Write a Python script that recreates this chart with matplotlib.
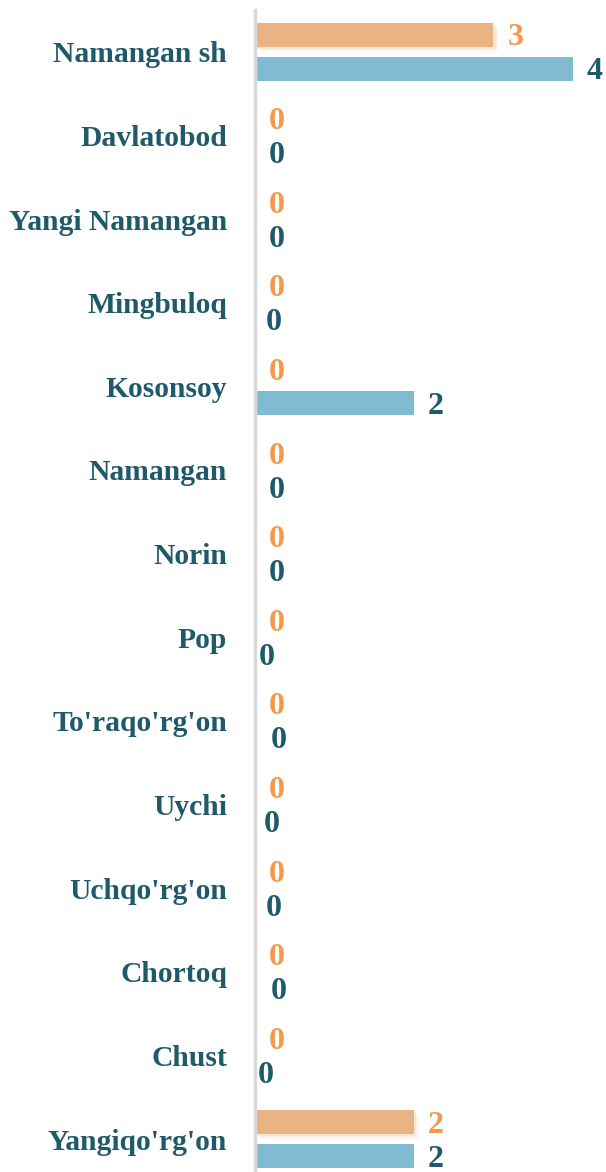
import matplotlib.pyplot as plt
import matplotlib.patheffects as pe
import numpy as np

regions = ["Namangan sh", "Davlatobod", "Yangi Namangan", "Mingbuloq", "Kosonsoy",
           "Namangan", "Norin", "Pop", "To'raqo'rg'on", "Uychi", "Uchqo'rg'on",
           "Chortoq", "Chust", "Yangiqo'rg'on"]
orange_vals = [3, 0, 0, 0, 0, 0, 0, 0, 0, 0, 0, 0, 0, 2]
blue_vals = [4, 0, 0, 0, 2, 0, 0, 0, 0, 0, 0, 0, 0, 2]

# small horizontal nudges of the zero labels seen in the picture (points)
blue_zero_nudge = [0, 0, 0, -2, 0, 0, 0, -7, 1, -4, -2, 1, -8, 0]

ORANGE = "#EAB384"
BLUE = "#80BBD1"
TEAL = "#1F5A6A"
ORANGE_TXT = "#F5984A"

plt.rcParams['font.family'] = ['Liberation Serif', 'DejaVu Serif']

fig = plt.figure(figsize=(6.06, 11.72), dpi=100)
ax = fig.add_axes([255 / 606, 0, 1 - 255 / 606, 1162 / 1172])

y = np.arange(len(regions))
off = 0.203
h = 0.287

shadow = [pe.SimplePatchShadow(offset=(d, -d), shadow_rgbFace=ORANGE, alpha=a)
          for d, a in [(3.5, 0.08), (2.5, 0.12), (1.5, 0.18)]]
ax.barh(y - off, orange_vals, height=h, color=ORANGE, zorder=2,
        path_effects=shadow + [pe.Normal()])
ax.barh(y + off, blue_vals, height=h, color=BLUE, zorder=2)

for i in range(len(regions)):
    ax.annotate(str(orange_vals[i]), (orange_vals[i], y[i] - off), xytext=(10, -2.2),
                textcoords="offset points", va="center", ha="left",
                color=ORANGE_TXT, fontsize=23, fontweight="bold")
    dx = 10 + (blue_zero_nudge[i] if blue_vals[i] == 0 else 0)
    ax.annotate(str(blue_vals[i]), (blue_vals[i], y[i] + off), xytext=(dx, -2.2),
                textcoords="offset points", va="center", ha="left",
                color=TEAL, fontsize=23, fontweight="bold")

ax.set_yticks(y)
ax.set_yticklabels(regions, fontsize=21.3, fontweight="bold", color=TEAL)
ax.tick_params(axis="y", length=0, pad=20)
ax.set_xticks([])
ax.set_xlim(0, 4 * 351 / 318)
ax.set_ylim(13 + 33 / 83.7, -0.5)

for s in ["top", "right", "bottom"]:
    ax.spines[s].set_visible(False)
ax.spines["left"].set_color("#D9D9D9")
ax.spines["left"].set_linewidth(2.5)
ax.spines["left"].set_zorder(3)

fig.savefig("out.png", dpi=100)
